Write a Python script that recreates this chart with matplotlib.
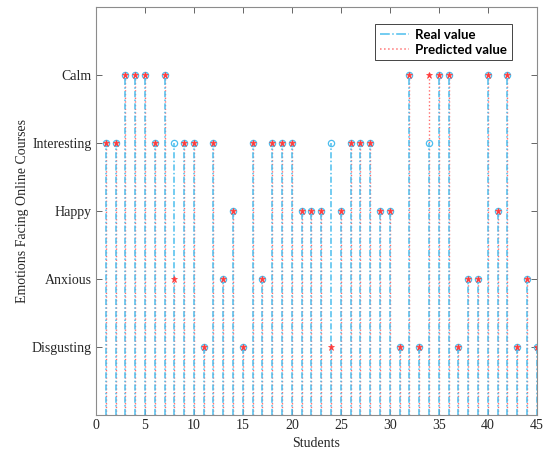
import matplotlib
matplotlib.use('Agg')
import matplotlib.pyplot as plt
from matplotlib.lines import Line2D

# emotion codes: 1=Disgusting, 2=Anxious, 3=Happy, 4=Interesting, 5=Calm
emotions = ['Disgusting', 'Anxious', 'Happy', 'Interesting', 'Calm']
students = list(range(1, 46))
real = [4, 4, 5, 5, 5, 4, 5, 4, 4, 4,
        1, 4, 2, 3, 1, 4, 2, 4, 4, 4,
        3, 3, 3, 4, 3, 4, 4, 4, 3, 3,
        1, 5, 1, 4, 5, 5, 1, 2, 2, 5,
        3, 5, 1, 2, 1]
predicted = [4, 4, 5, 5, 5, 4, 5, 2, 4, 4,
             1, 4, 2, 3, 1, 4, 2, 4, 4, 4,
             3, 3, 3, 1, 3, 4, 4, 4, 3, 3,
             1, 5, 1, 5, 5, 5, 1, 2, 2, 5,
             3, 5, 1, 2, 1]

serif = ['Liberation Serif', 'DejaVu Serif']
blue = '#4DBEEE'
red = '#FF3B3B'

fig = plt.figure(figsize=(5.45, 4.49), dpi=100)
ax = fig.add_axes([0.176, 0.076, 0.809, 0.908])

# stems
ax.vlines(students, 0, predicted, colors=red, linestyles=':', linewidth=1.0, alpha=0.75)
ax.vlines(students, 0, real, colors=blue, linestyles=(0, (4, 1.5, 1, 1.5)), linewidth=1.1)
ax.plot(students, real, 'o', markersize=4.5, markerfacecolor='none',
        markeredgecolor=blue, markeredgewidth=0.9)
ax.plot(students, predicted, '*', markersize=5, color=red, markeredgewidth=0.5)

ax.set_xlim(0, 45)
ax.set_ylim(0, 6)
ax.set_xticks(range(0, 46, 5))
ax.set_yticks(range(1, 6))
ax.set_yticklabels(emotions)
ax.tick_params(direction='in', top=True, right=True, length=4, width=0.7,
               color='0.4', labelsize=10, pad=3)
for lab in ax.get_xticklabels() + ax.get_yticklabels():
    lab.set_family(serif)
    lab.set_color('#262626')
for s in ax.spines.values():
    s.set_color('0.55')
    s.set_linewidth(0.8)

ax.set_xlabel('Students', family=serif, fontsize=10, color='#262626', labelpad=3.5)
ax.set_ylabel('Emotions Facing Online Courses', family=serif, fontsize=10,
              color='#262626', labelpad=2)

handles = [Line2D([], [], color=blue, linestyle='-.', linewidth=1.1),
           Line2D([], [], color=red, linestyle=':', linewidth=1.1, alpha=0.7)]
leg = ax.legend(handles, ['Real value', 'Predicted value'], loc='upper right',
                bbox_to_anchor=(0.943, 0.958), borderaxespad=0, fancybox=False,
                framealpha=1, edgecolor='#262626', handlelength=2.2,
                handletextpad=0.5, borderpad=0.35, labelspacing=0.2,
                prop={'family': ['Lato', 'DejaVu Sans'], 'weight': 'bold', 'size': 9.5})
leg.get_frame().set_linewidth(0.6)

fig.savefig('out.png', dpi=100)
